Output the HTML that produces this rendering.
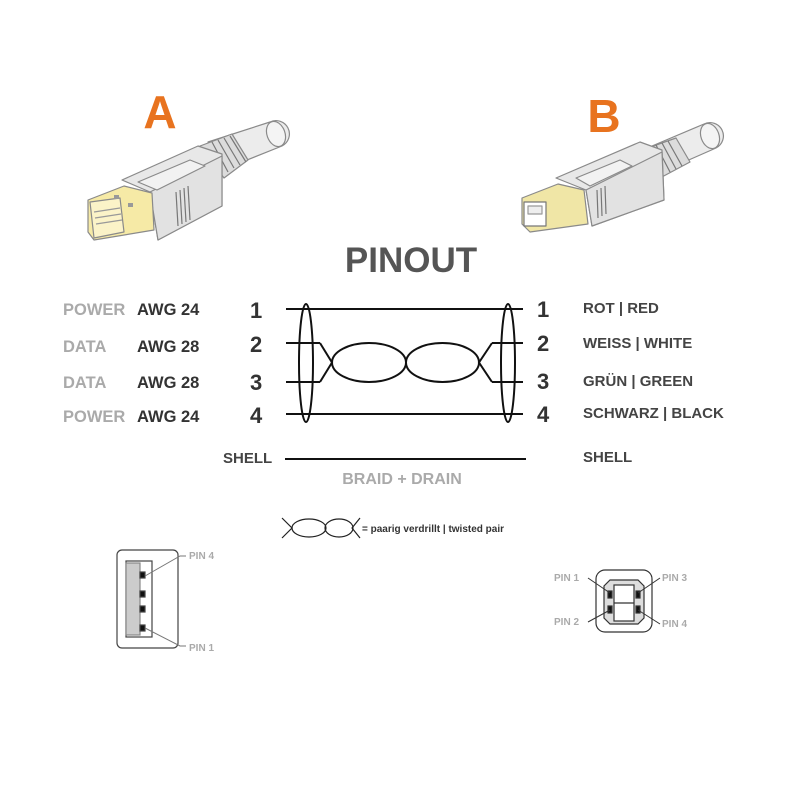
<!DOCTYPE html>
<html><head><meta charset="utf-8"><style>
html,body{margin:0;padding:0;background:#fff}
svg{display:block}
text{font-family:"Liberation Sans",sans-serif;font-weight:bold}
</style></head><body>
<svg width="800" height="800" viewBox="0 0 800 800" xmlns="http://www.w3.org/2000/svg">
<rect width="800" height="800" fill="#fff"/>
<text x="160" y="128" font-size="46" fill="#e8731f" text-anchor="middle">A</text>
<text x="604" y="132" font-size="46" fill="#e8731f" text-anchor="middle">B</text>

<!-- Plug A -->
<g stroke="#8a8a8a" stroke-width="1.2" stroke-linejoin="round">
  <path d="M208,142 L270,122 A13,13 0 0 1 282,146 L222,170 Z" fill="#ececec"/>
  <ellipse cx="276" cy="134" rx="9" ry="13" fill="#f4f4f4" transform="rotate(-20 276 134)"/>
  <path d="M200,146 L232,134 L248,160 L224,178 Z" fill="#dcdcdc"/>
  <g stroke="#777"><line x1="212" y1="142" x2="228" y2="172"/><line x1="218" y1="140" x2="234" y2="168"/><line x1="224" y1="138" x2="240" y2="165"/><line x1="230" y1="136" x2="246" y2="162"/></g>
  <path d="M122,180 L198,146 L222,154 L222,206 L158,240 L150,192 Z" fill="#e8e8e8"/>
  <path d="M150,192 L222,156 L222,206 L158,240 Z" fill="#e2e2e2"/>
  <path d="M138,182 L190,160 L205,166 L157,190 Z" fill="#f2f2f2"/>
  <g stroke="#777"><line x1="176" y1="192" x2="178" y2="226"/><line x1="180" y1="190" x2="182" y2="224"/><line x1="184" y1="188" x2="186" y2="222"/><line x1="188" y1="186" x2="190" y2="220"/></g>
  <path d="M88,200 L124,186 L152,193 L154,230 L94,240 L88,232 Z" fill="#f6eaa6"/>
  <path d="M90,202 L120,198 L124,232 L94,238 Z" fill="#fbf3c8"/>
  <g stroke="#999"><line x1="94" y1="212" x2="120" y2="208"/><line x1="95" y1="218" x2="121" y2="214"/><line x1="96" y1="224" x2="122" y2="220"/></g>
  <rect x="114" y="195" width="5" height="4" fill="#999" stroke="none"/>
  <rect x="128" y="203" width="5" height="4" fill="#999" stroke="none"/>
</g>

<!-- Plug B -->
<g stroke="#8a8a8a" stroke-width="1.2" stroke-linejoin="round">
  <path d="M652,146 L704,124 A13,13 0 0 1 716,148 L666,170 Z" fill="#ececec"/>
  <ellipse cx="710" cy="136" rx="9" ry="13" fill="#f4f4f4" transform="rotate(-20 710 136)"/>
  <path d="M642,150 L676,138 L690,162 L660,178 Z" fill="#dcdcdc"/>
  <g stroke="#777"><line x1="656" y1="145" x2="670" y2="172"/><line x1="662" y1="143" x2="676" y2="169"/><line x1="668" y1="141" x2="682" y2="166"/></g>
  <path d="M556,178 L640,142 L662,150 L664,200 L592,226 L586,190 Z" fill="#e8e8e8"/>
  <path d="M586,190 L662,152 L664,200 L592,226 Z" fill="#e2e2e2"/>
  <path d="M576,178 L620,160 L632,166 L590,186 Z" fill="#f2f2f2"/>
  <g stroke="#777"><line x1="597" y1="190" x2="598" y2="218"/><line x1="601" y1="188" x2="602" y2="216"/><line x1="605" y1="186" x2="606" y2="214"/></g>
  <path d="M522,198 L558,184 L584,190 L588,224 L530,232 L522,224 Z" fill="#f0e6a6"/>
  <rect x="524" y="202" width="22" height="24" fill="#fff" stroke="#777"/>
  <rect x="528" y="206" width="14" height="8" fill="#eee" stroke="#999"/>
</g>

<text x="411" y="272" font-size="35" fill="#555" text-anchor="middle">PINOUT</text>

<g font-size="16.5">
  <text x="63" y="315" fill="#aaa">POWER</text><text x="137" y="315" fill="#333">AWG 24</text>
  <text x="63" y="352" fill="#aaa">DATA</text><text x="137" y="352" fill="#333">AWG 28</text>
  <text x="63" y="388" fill="#aaa">DATA</text><text x="137" y="388" fill="#333">AWG 28</text>
  <text x="63" y="422" fill="#aaa">POWER</text><text x="137" y="422" fill="#333">AWG 24</text>
</g>
<g font-size="22" fill="#333">
  <text x="250" y="318">1</text><text x="250" y="352">2</text><text x="250" y="390">3</text><text x="250" y="423">4</text>
  <text x="537" y="317">1</text><text x="537" y="351">2</text><text x="537" y="389">3</text><text x="537" y="422">4</text>
</g>
<g font-size="15" fill="#444">
  <text x="583" y="313">ROT | RED</text>
  <text x="583" y="348">WEISS | WHITE</text>
  <text x="583" y="386">GRÜN | GREEN</text>
  <text x="583" y="418">SCHWARZ | BLACK</text>
  <text x="223" y="463">SHELL</text>
  <text x="583" y="462">SHELL</text>
</g>
<text x="402" y="484" font-size="16" fill="#aaa" text-anchor="middle">BRAID + DRAIN</text>

<g stroke="#111" stroke-width="2" fill="none">
  <line x1="286" y1="309" x2="523" y2="309"/>
  <line x1="286" y1="414" x2="523" y2="414"/>
  <line x1="286" y1="343" x2="320" y2="343"/>
  <line x1="286" y1="382" x2="320" y2="382"/>
  <line x1="492" y1="343" x2="523" y2="343"/>
  <line x1="492" y1="382" x2="523" y2="382"/>
  <path d="M320,343 L332,362.5 L320,382"/>
  <path d="M492,343 L479,362.5 L492,382"/>
  <ellipse cx="369" cy="362.5" rx="37" ry="19.5"/>
  <ellipse cx="442.5" cy="362.5" rx="36.5" ry="19.5"/>
  <ellipse cx="306" cy="363" rx="7" ry="59"/>
  <ellipse cx="508" cy="363" rx="7" ry="59"/>
  <line x1="285" y1="459" x2="526" y2="459"/>
</g>

<g stroke="#222" stroke-width="1.2" fill="none">
  <path d="M282,518 L292,528 L282,538"/>
  <ellipse cx="309" cy="528" rx="17" ry="9"/>
  <ellipse cx="339" cy="528" rx="14" ry="9"/>
  <path d="M360,518 L352,528 L360,538"/>
</g>
<text x="362" y="532" font-size="10" fill="#333">= paarig verdrillt | twisted pair</text>

<g stroke="#444" stroke-width="1.2">
  <rect x="117" y="550" width="61" height="98" rx="5" fill="#fff"/>
  <rect x="126" y="561" width="26" height="76" fill="#fff"/>
  <rect x="126" y="563" width="14" height="72" fill="#ccc" stroke="#888"/>
  <rect x="140" y="572" width="5" height="6" fill="#111"/>
  <rect x="140" y="591" width="5" height="6" fill="#111"/>
  <rect x="140" y="606" width="5" height="6" fill="#111"/>
  <rect x="140" y="625" width="5" height="6" fill="#111"/>
</g>
<g stroke="#777" stroke-width="1" fill="none">
  <path d="M145,576 L180,556 L186,556"/>
  <path d="M145,628 L180,646 L186,646"/>
</g>
<g font-size="10" fill="#aaa">
  <text x="189" y="559">PIN 4</text>
  <text x="189" y="651">PIN 1</text>
  <text x="554" y="581">PIN 1</text>
  <text x="662" y="581">PIN 3</text>
  <text x="554" y="625">PIN 2</text>
  <text x="662" y="627">PIN 4</text>
</g>

<g stroke="#333" stroke-width="1.2">
  <rect x="596" y="570" width="56" height="62" rx="9" fill="#fff"/>
  <path d="M610,580 L638,580 L644,586 L644,618 L638,624 L610,624 L604,618 L604,586 Z" fill="#ddd"/>
  <rect x="614" y="585" width="20" height="36" fill="#fff"/>
  <line x1="614" y1="603" x2="634" y2="603"/>
  <rect x="608" y="591" width="4" height="7" fill="#111"/>
  <rect x="608" y="606" width="4" height="7" fill="#111"/>
  <rect x="636" y="591" width="4" height="7" fill="#111"/>
  <rect x="636" y="606" width="4" height="7" fill="#111"/>
</g>
<g stroke="#333" stroke-width="1" fill="none">
  <line x1="588" y1="578" x2="610" y2="593"/>
  <line x1="588" y1="622" x2="610" y2="610"/>
  <line x1="660" y1="578" x2="638" y2="593"/>
  <line x1="660" y1="624" x2="638" y2="610"/>
</g>
</svg>
</body></html>
